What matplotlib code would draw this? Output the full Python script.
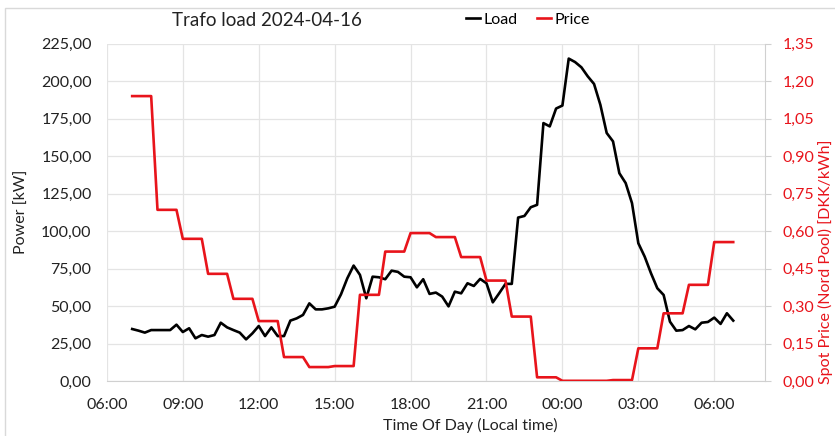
import numpy as np
import pandas as pd
import matplotlib
matplotlib.use('Agg')
import matplotlib.pyplot as plt
import matplotlib.dates as mdates
from matplotlib.ticker import FuncFormatter, MultipleLocator
from matplotlib.patches import Rectangle

plt.rcParams['font.family'] = ['Lato', 'DejaVu Sans']

# quarter-hour trafo load [kW], 07:00 -> 06:45 next day
load_kw = [34.7, 33.6, 32.3, 34.0, 34.0, 34.0, 34.0, 37.6,
           32.7, 35.2, 28.5, 30.7, 29.6, 30.7, 38.9, 35.8,
           34.0, 32.3, 27.8, 31.8, 36.7, 30.0, 35.8, 30.0,
           30.0, 40.3, 41.8, 44.1, 51.8, 47.8, 47.8, 48.5,
           49.6, 57.8, 68.5, 77.0, 70.8, 55.2, 69.6, 69.2,
           67.9, 73.6, 72.8, 69.6, 69.2, 62.5, 67.9, 58.1,
           59.0, 56.3, 49.8, 59.6, 58.5, 65.2, 63.4, 68.1,
           65.2, 52.5, 58.5, 64.8, 64.8, 109.0, 110.1, 115.9,
           117.5, 172.0, 169.8, 181.7, 183.7, 215.0, 212.7, 209.2,
           203.2, 198.1, 184.2, 165.4, 159.8, 138.6, 132.0, 118.6,
           91.9, 83.0, 71.9, 61.9, 57.4, 39.6, 33.6, 34.0,
           36.7, 34.5, 38.9, 39.4, 42.3, 38.1, 45.2, 40.3]

# hourly spot price [DKK/kWh], hours 07 .. 06
price_hourly = [1.140, 0.685, 0.569, 0.429, 0.329, 0.240, 0.096, 0.056,
                0.060, 0.345, 0.518, 0.592, 0.576, 0.496, 0.402, 0.258,
                0.015, 0.001, 0.001, 0.004, 0.131, 0.271, 0.385, 0.556]

times = pd.date_range('2024-04-16 07:00', periods=len(load_kw), freq='15min')
price = np.repeat(price_hourly, 4)

def comma(v, pos):
    return ('%.2f' % v).replace('.', ',')

fig = plt.figure(figsize=(8.35, 4.36), dpi=100)
ax = fig.add_axes([0.128, 0.126, 0.788, 0.774])
ax2 = ax.twinx()

ax.plot(times, load_kw, color='black', lw=1.9, label='Load', zorder=3)
ax2.plot(times, price, color='#e8141b', lw=1.9, label='Price', zorder=3)

ax.set_xlim(pd.Timestamp('2024-04-16 06:00'), pd.Timestamp('2024-04-17 08:00'))
ax.set_ylim(0, 225)
ax2.set_ylim(0, 1.35)
ax.yaxis.set_major_locator(MultipleLocator(25))
ax2.yaxis.set_major_locator(MultipleLocator(0.15))
ax.yaxis.set_major_formatter(FuncFormatter(comma))
ax2.yaxis.set_major_formatter(FuncFormatter(comma))
ax.xaxis.set_major_locator(mdates.HourLocator(byhour=range(0, 24, 3)))
ax.xaxis.set_major_formatter(mdates.DateFormatter('%H:%M'))

ax.grid(True, color='#e4e4e4', lw=0.9)
ax.set_axisbelow(True)
for s in ['top', 'right', 'left']:
    ax.spines[s].set_visible(False)
for s in ['top', 'left', 'bottom']:
    ax2.spines[s].set_visible(False)
ax.spines['bottom'].set_color('#d0d0d0')
ax2.spines['right'].set_color('#d0d0d0')

ax.tick_params(axis='both', length=0, labelsize=11.5, colors='#222222')
ax.tick_params(axis='y', pad=11)
ax.tick_params(axis='x', pad=12)
ax2.tick_params(axis='y', length=4, color='#d0d0d0', labelsize=11.5,
                labelcolor='#e8141b', pad=9)

fig.text(0.026, 0.515, 'Power [kW]', rotation=90, ha='center', va='center',
         fontsize=11.5, color='#222222')
fig.text(0.989, 0.40, 'Spot Price (Nord Pool) [DKK/kWh]', rotation=90,
         ha='center', va='center', fontsize=11.5, color='#e8141b')
fig.text(0.563, 0.025, 'Time Of Day (Local time)', ha='center', va='center',
         fontsize=11.5, color='#222222')
fig.text(0.32, 0.953, 'Trafo load 2024-04-16', ha='center', va='center',
         fontsize=13.5, color='#222222')

h1, l1 = ax.get_legend_handles_labels()
h2, l2 = ax2.get_legend_handles_labels()
fig.legend(h1 + h2, l1 + l2, loc='center', bbox_to_anchor=(0.632, 0.955),
           ncol=2, frameon=False, fontsize=11.5, handlelength=0.9,
           handletextpad=0.2, columnspacing=1.2)

# chart border
fig.patches.append(Rectangle((5 / 835, -0.1), 1.2, 1.1 - 8 / 436,
                             transform=fig.transFigure, fill=False,
                             edgecolor='#d9d9d9', lw=1.0))

plt.savefig('out.png', dpi=100)
